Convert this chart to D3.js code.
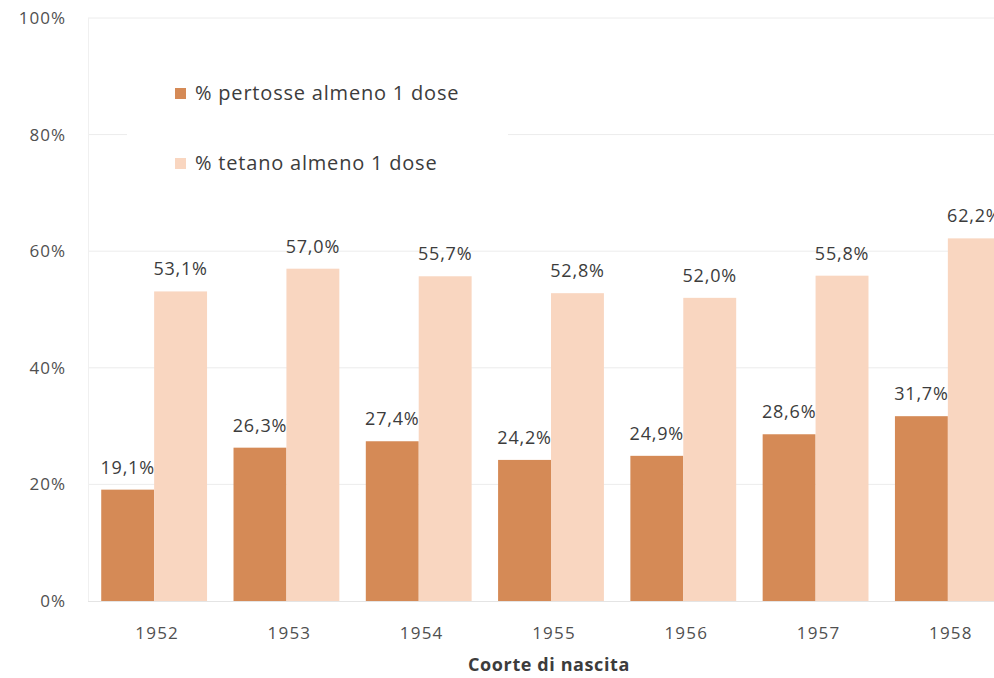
<!DOCTYPE html>
<html>
<head>
<meta charset="utf-8">
<script src="https://cdn.jsdelivr.net/npm/d3@7"></script>
<style>
  body { margin: 0; background: #fff; }
  svg { display: block; font-family: "Open Sans", Lato, sans-serif; }
</style>
</head>
<body>
<div id="chart"></div>
<script>
var years = ["1952", "1953", "1954", "1955", "1956", "1957", "1958"];
var pertosse = [19.1, 26.3, 27.4, 24.2, 24.9, 28.6, 31.7];
var tetano = [53.1, 57.0, 55.7, 52.8, 52.0, 55.8, 62.2];
var seriesNames = ["% pertosse almeno 1 dose", "% tetano almeno 1 dose"];
var yTicks = [0, 20, 40, 60, 80, 100];

var colors = ["#d58a56", "#f9d6c0"];
var width = 994, height = 678;
var margin = {top: 18, left: 88, bottom: 76};
var plotW = 926; // plot runs past the right edge (cropped like the original)

var svg = d3.select("#chart").append("svg")
  .attr("width", width)
  .attr("height", height);

var x = d3.scaleBand().domain(years).range([margin.left, margin.left + plotW]).paddingInner(0.2).paddingOuter(0.1);
var y = d3.scaleLinear().domain([0, 100]).range([height - margin.bottom - 1, margin.top]);
var xSub = d3.scaleBand().domain([0, 1]).range([0, x.bandwidth()]);

// gridlines
svg.append("g")
  .selectAll("line")
  .data(yTicks.filter(function(d) { return d > 0; }))
  .enter().append("line")
  .attr("x1", margin.left)
  .attr("x2", width)
  .attr("y1", function(d) { return y(d); })
  .attr("y2", function(d) { return y(d); })
  .attr("stroke", "#ececec")
  .attr("stroke-width", 1);

// left border line
svg.append("line")
  .attr("x1", margin.left + 0.5).attr("x2", margin.left + 0.5)
  .attr("y1", y(100)).attr("y2", y(0))
  .attr("stroke", "#f0f0f0");

// y labels
svg.append("g")
  .selectAll("text")
  .data(yTicks)
  .enter().append("text")
  .attr("x", 66)
  .attr("y", function(d) { return y(d); })
  .attr("dy", "0.35em")
  .attr("text-anchor", "end")
  .attr("fill", "#505050")
  .style("font-size", "17px")
  .style("letter-spacing", "1px")
  .text(function(d) { return d + "%"; });

// bars
var data = years.map(function(yr, i) { return {year: yr, vals: [pertosse[i], tetano[i]]}; });

var groups = svg.selectAll(".grp")
  .data(data)
  .enter().append("g")
  .attr("class", "grp")
  .attr("transform", function(d) { return "translate(" + x(d.year) + ",0)"; });

groups.selectAll("rect")
  .data(function(d) { return d.vals; })
  .enter().append("rect")
  .attr("x", function(d, i) { return xSub(i); })
  .attr("y", function(d) { return y(d); })
  .attr("width", xSub.bandwidth())
  .attr("height", function(d) { return y(0) - y(d); })
  .attr("fill", function(d, i) { return colors[i]; });

groups.selectAll(".lbl")
  .data(function(d) { return d.vals; })
  .enter().append("text")
  .attr("class", "lbl")
  .attr("x", function(d, i) { return xSub(i) + xSub.bandwidth() / 2; })
  .attr("y", function(d) { return y(d) - 16; })
  .attr("text-anchor", "middle")
  .attr("fill", "#3c3c3c")
  .style("font-size", "18px")
  .style("letter-spacing", "0.8px")
  .text(function(d) { return d.toFixed(1).replace(".", ",") + "%"; });

// baseline
svg.append("line")
  .attr("x1", margin.left).attr("x2", width)
  .attr("y1", y(0) + 0.5).attr("y2", y(0) + 0.5)
  .attr("stroke", "#e4e4e4");

// x axis labels
svg.append("g")
  .selectAll("text")
  .data(years)
  .enter().append("text")
  .attr("x", function(d) { return x(d) + x.bandwidth() / 2 + 3; })
  .attr("y", 633)
  .attr("dy", "0.35em")
  .attr("text-anchor", "middle")
  .attr("fill", "#505050")
  .style("font-size", "17px")
  .style("letter-spacing", "1.2px")
  .text(function(d) { return d; });

svg.append("text")
  .attr("x", 549)
  .attr("y", 665)
  .attr("dy", "0.35em")
  .attr("text-anchor", "middle")
  .attr("fill", "#3c3c3c")
  .style("font-size", "18px")
  .style("font-weight", "bold")
  .style("letter-spacing", "0.6px")
  .text("Coorte di nascita");

// legend
var legend = svg.append("g");
legend.append("rect")
  .attr("x", 127).attr("y", 60)
  .attr("width", 381).attr("height", 134)
  .attr("fill", "#fff");

var items = legend.selectAll(".item")
  .data(seriesNames)
  .enter().append("g")
  .attr("class", "item")
  .attr("transform", function(d, i) { return "translate(175," + (93 + i * 70) + ")"; });

items.append("rect")
  .attr("x", 0).attr("y", -5)
  .attr("width", 11).attr("height", 11)
  .attr("fill", function(d, i) { return colors[i]; });

items.append("text")
  .attr("x", 20)
  .attr("y", 0)
  .attr("dy", "0.35em")
  .attr("fill", "#3c3c3c")
  .style("font-size", "20px")
  .style("letter-spacing", "0.8px")
  .text(function(d) { return d; });
</script>
</body>
</html>
